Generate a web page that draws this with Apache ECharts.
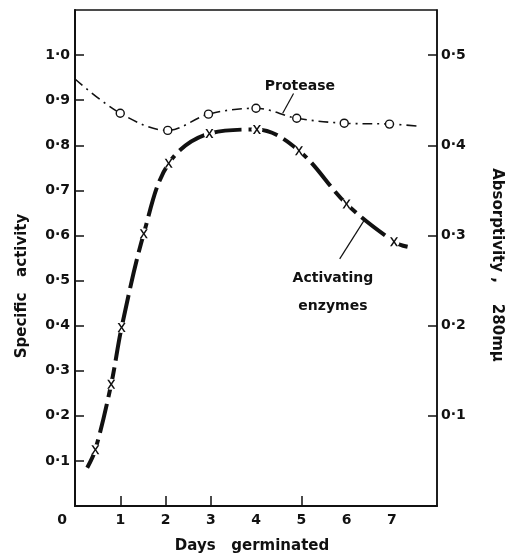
<!DOCTYPE html>
<html>
<head>
<meta charset="utf-8">
<script src="https://cdn.jsdelivr.net/npm/echarts@6/dist/echarts.min.js"></script>
<style>
  html, body { margin: 0; padding: 0; background: #fff; }
  #chart { width: 505px; height: 559px; }
</style>
</head>
<body>
<div id="chart"></div>
<script>
// Protease: curve points (first and last only shape the curve ends, no marker)
const proteaseDays     = [0, 1, 2.05, 2.95, 4, 4.9, 5.95, 6.95, 7.65];
const proteaseActivity = [0.947, 0.871, 0.833, 0.869, 0.882, 0.860, 0.849, 0.847, 0.842];
const proteaseMeasured = [false, true, true, true, true, true, true, true, false];

// Activating enzymes: curve points (first and last only shape the curve ends)
const enzymeDays     = [0.27, 0.45, 0.8, 1.03, 1.52, 2.07, 2.97, 4.02, 4.95, 6.0, 7.05, 7.35];
const enzymeActivity = [0.085, 0.125, 0.27, 0.396, 0.604, 0.76, 0.826, 0.835, 0.788, 0.67, 0.586, 0.575];
const enzymeMeasured = [false, true, true, true, true, true, true, true, true, true, true, false];

// Axis ticks and labels
const dayTicks      = [0, 1, 2, 3, 4, 5, 6, 7];
const dayTickMarks  = [1, 2, 3, 5];
const activityTicks = [0.1, 0.2, 0.3, 0.4, 0.5, 0.6, 0.7, 0.8, 0.9, 1.0];
const absorbTicks   = [0.1, 0.2, 0.3, 0.4, 0.5];

const FONT = '"DejaVu Sans", sans-serif';
const INK = '#111';
const fmt = v => v.toFixed(1).replace('.', '·');

const crossSymbol = 'path://M0,0H2.3L5,3.7L7.7,0H10L6.2,5L10,10H7.7L5,6.3L2.3,10H0L3.8,5Z';

function buildData(xs, ys, flags, sym) {
  return xs.map((x, i) => ({
    value: [x, ys[i]],
    symbol: flags[i] ? sym : 'none'
  }));
}

function measuredPoints(xs, ys, flags) {
  return xs.map((x, i) => [x, ys[i]]).filter((_, i) => flags[i]);
}

const nameStyle = { fontFamily: FONT, fontWeight: 'bold', fontSize: 15, color: INK };

const chart = echarts.init(document.getElementById('chart'), null, { renderer: 'canvas' });

chart.setOption({
  animation: false,
  backgroundColor: '#fff',
  grid: {
    left: 75, right: 68, top: 10, bottom: 53,
    outerBoundsMode: 'none', containLabel: false,
    show: true, borderColor: INK, borderWidth: 1.5, backgroundColor: 'transparent'
  },
  xAxis: {
    type: 'value', min: 0, max: 8, interval: 1,
    name: 'Days   germinated', nameLocation: 'middle', nameGap: 33,
    nameTextStyle: Object.assign({}, nameStyle, { padding: [0, 8, 0, 0] }),
    axisLine: { lineStyle: { color: INK, width: 2 } },
    axisTick: { inside: true, length: 10, customValues: dayTickMarks, lineStyle: { color: INK, width: 1.5 } },
    axisLabel: {
      customValues: dayTicks, margin: 7,
      fontFamily: FONT, fontWeight: 'bold', fontSize: 14, color: INK,
      formatter: v => v === 0 ? '{z|0}' : String(v),
      rich: { z: { fontFamily: FONT, fontWeight: 'bold', fontSize: 14, color: INK, padding: [0, 26, 0, 0] } }
    },
    splitLine: { show: false }
  },
  yAxis: [
    {
      type: 'value', min: 0, max: 1.1, interval: 0.1, position: 'left',
      name: 'Specific   activity', nameLocation: 'middle', nameGap: 45,
      nameTextStyle: Object.assign({}, nameStyle, { padding: [0, 56, 0, 0] }),
      axisLine: { show: true, lineStyle: { color: INK, width: 2 } },
      axisTick: { show: true, inside: true, length: 9, customValues: activityTicks, lineStyle: { color: INK, width: 1.5 } },
      axisLabel: {
        customValues: activityTicks, margin: 5,
        fontFamily: FONT, fontWeight: 'bold', fontSize: 14, color: INK,
        formatter: v => fmt(v)
      },
      splitLine: { show: false }
    },
    {
      type: 'value', min: 0, max: 0.55, interval: 0.05, position: 'right',
      name: 'Absorptivity ,    280mμ', nameLocation: 'middle', nameGap: 52, nameRotate: -90,
      nameTextStyle: Object.assign({}, nameStyle, { padding: [0, 0, 0, 14] }),
      axisLine: { show: true, lineStyle: { color: INK, width: 1.5 } },
      axisTick: { show: true, inside: true, length: 9, customValues: absorbTicks, lineStyle: { color: INK, width: 1.5 } },
      axisLabel: {
        customValues: absorbTicks, margin: 4,
        fontFamily: FONT, fontWeight: 'bold', fontSize: 14, color: INK,
        formatter: v => fmt(v)
      },
      splitLine: { show: false }
    }
  ],
  series: [
    {
      name: 'Protease',
      type: 'line', yAxisIndex: 0, smooth: 0.35,
      data: buildData(proteaseDays, proteaseActivity, proteaseMeasured, 'circle'),
      symbolSize: 8,
      itemStyle: { color: '#fff', borderColor: INK, borderWidth: 1.4 },
      lineStyle: { color: INK, width: 1.6, type: [10, 5, 2, 5] },
      emphasis: { disabled: true },
      z: 3,
      markLine: {
        silent: true, symbol: ['none', 'none'], label: { show: false },
        lineStyle: { color: INK, width: 1.2, type: 'solid' },
        data: [
          [{ coord: [4.83, 0.915] }, { coord: [4.59, 0.871] }],
          [{ coord: [5.85, 0.548] }, { coord: [6.40, 0.635] }]
        ]
      },
      markPoint: {
        silent: true, symbol: 'circle', symbolSize: 0,
        label: {
          show: true, position: 'inside',
          fontFamily: FONT, fontWeight: 'bold', fontSize: 14, color: INK, lineHeight: 28
        },
        data: [
          { coord: [4.97, 0.93], label: { formatter: 'Protease' } },
          { coord: [5.70, 0.474], label: { formatter: 'Activating\nenzymes' } }
        ]
      }
    },
    {
      name: 'Activating enzymes',
      type: 'line', yAxisIndex: 0, smooth: 0.35,
      data: buildData(enzymeDays, enzymeActivity, enzymeMeasured, 'none'),
      showSymbol: false,
      lineStyle: { color: INK, width: 4, type: [30, 7], cap: 'butt' },
      emphasis: { disabled: true },
      z: 4
    },
    {
      // white gap in the thick curve around each cross
      name: 'enzyme-gap',
      type: 'scatter', yAxisIndex: 0,
      data: measuredPoints(enzymeDays, enzymeActivity, enzymeMeasured),
      symbol: 'circle', symbolSize: 11,
      itemStyle: { color: '#fff', borderWidth: 0, opacity: 1 },
      emphasis: { disabled: true }, silent: true,
      z: 5
    },
    {
      name: 'enzyme-marks',
      type: 'scatter', yAxisIndex: 0,
      data: measuredPoints(enzymeDays, enzymeActivity, enzymeMeasured),
      symbol: crossSymbol, symbolSize: [8, 9],
      itemStyle: { color: INK, borderWidth: 0, opacity: 1 },
      emphasis: { disabled: true }, silent: true,
      z: 6
    }
  ]
});
</script>
</body>
</html>
